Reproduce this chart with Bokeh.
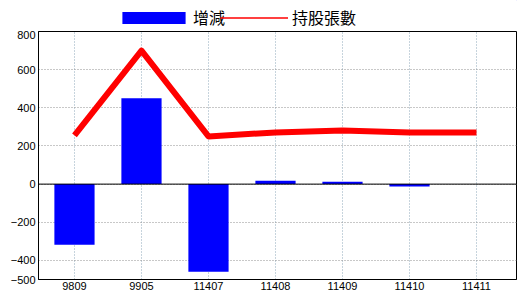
from bokeh.plotting import figure
from bokeh.layouts import column
from bokeh.models import (Range1d, FixedTicker, Span, Legend, LegendItem,
                          ColumnDataSource)
from bokeh.embed import file_html
from bokeh.resources import INLINE

categories = ["9809", "9905", "11407", "11408", "11409", "11410", "11411"]
change = [-318, 450, -460, 17, 12, -12]          # 增減
holdings = [255, 700, 250, 271, 281, 271, 271]  # 持股張數
y_ticks = [-500, -400, -200, 0, 200, 400, 600, 800]
series_names = ["增減", "持股張數"]

xs = list(range(len(categories)))
bar_src = ColumnDataSource(dict(x=xs[:len(change)], top=change))
line_src = ColumnDataSource(dict(x=xs, y=holdings))

p = figure(width=520, height=269, output_backend="svg", toolbar_location=None,
           x_range=Range1d(-0.537, 6.597), y_range=Range1d(-500, 800),
           min_border_left=38, min_border_right=4, min_border_top=1,
           min_border_bottom=20, background_fill_color="white",
           border_fill_color="white")

p.outline_line_color = "black"
p.outline_line_width = 1

# axes
for ax in (p.xaxis, p.yaxis):
    ax.axis_line_color = "black"
    ax.major_tick_out = 0
    ax.major_tick_in = 0
    ax.minor_tick_out = 0
    ax.minor_tick_in = 0
    ax.major_label_text_font = "Liberation Sans"
    ax.major_label_text_font_size = "11px"
    ax.major_label_text_color = "black"
p.yaxis.ticker = FixedTicker(ticks=y_ticks)
p.yaxis.major_label_standoff = 3
p.xaxis.ticker = FixedTicker(ticks=xs)
p.xaxis.major_label_overrides = {i: c for i, c in enumerate(categories)}
p.xaxis.major_label_standoff = 2

# grids
p.ygrid.ticker = FixedTicker(ticks=y_ticks)
p.ygrid.grid_line_color = "#909090"
p.ygrid.grid_line_dash = "1 2"
p.xgrid.ticker = FixedTicker(ticks=xs)
p.xgrid.grid_line_color = "#8fa8bb"
p.xgrid.grid_line_dash = "1 2"

p.vbar(x="x", top="top", bottom=0, width=0.6, source=bar_src,
       fill_color="#0000ff", line_color=None)
p.add_layout(Span(location=0, dimension="width", line_color="black",
                  line_width=1))
p.line(x="x", y="y", source=line_src, line_color="#ff0000", line_width=6,
       line_join="round")

# legend strip above the plot (proxy glyphs sit outside its visible range)
lg = figure(width=520, height=30, output_backend="svg", toolbar_location=None,
            x_range=Range1d(0, 1), y_range=Range1d(0, 1),
            x_axis_type=None, y_axis_type=None, min_border=0,
            outline_line_color=None, background_fill_color="white",
            border_fill_color="white")
lg.xgrid.visible = False
lg.ygrid.visible = False
leg_bar = lg.vbar(x=[5], top=[5], bottom=[4], width=0.6,
                  fill_color="#0000ff", line_color=None)
leg_line = lg.line(x=[5, 6], y=[5, 5], line_color="#ff0000", line_width=1.5)

common = dict(orientation="horizontal", padding=0, spacing=0, margin=0,
              border_line_color=None, background_fill_alpha=0,
              label_height=12, label_text_font="Noto Sans CJK TC",
              label_text_font_size="16px", label_text_color="black")
legend1 = Legend(items=[LegendItem(label=series_names[0], renderers=[leg_bar])],
                 location=(76, 1), label_standoff=-4,
                 glyph_width=79, glyph_height=15, **common)
legend2 = Legend(items=[LegendItem(label=series_names[1], renderers=[leg_line])],
                 location=(182, 1), label_standoff=4,
                 glyph_width=68, glyph_height=15, **common)
lg.add_layout(legend1, "center")
lg.add_layout(legend2, "center")

layout = column(lg, p, spacing=0)
open("out.html", "w").write(file_html(layout, INLINE))
